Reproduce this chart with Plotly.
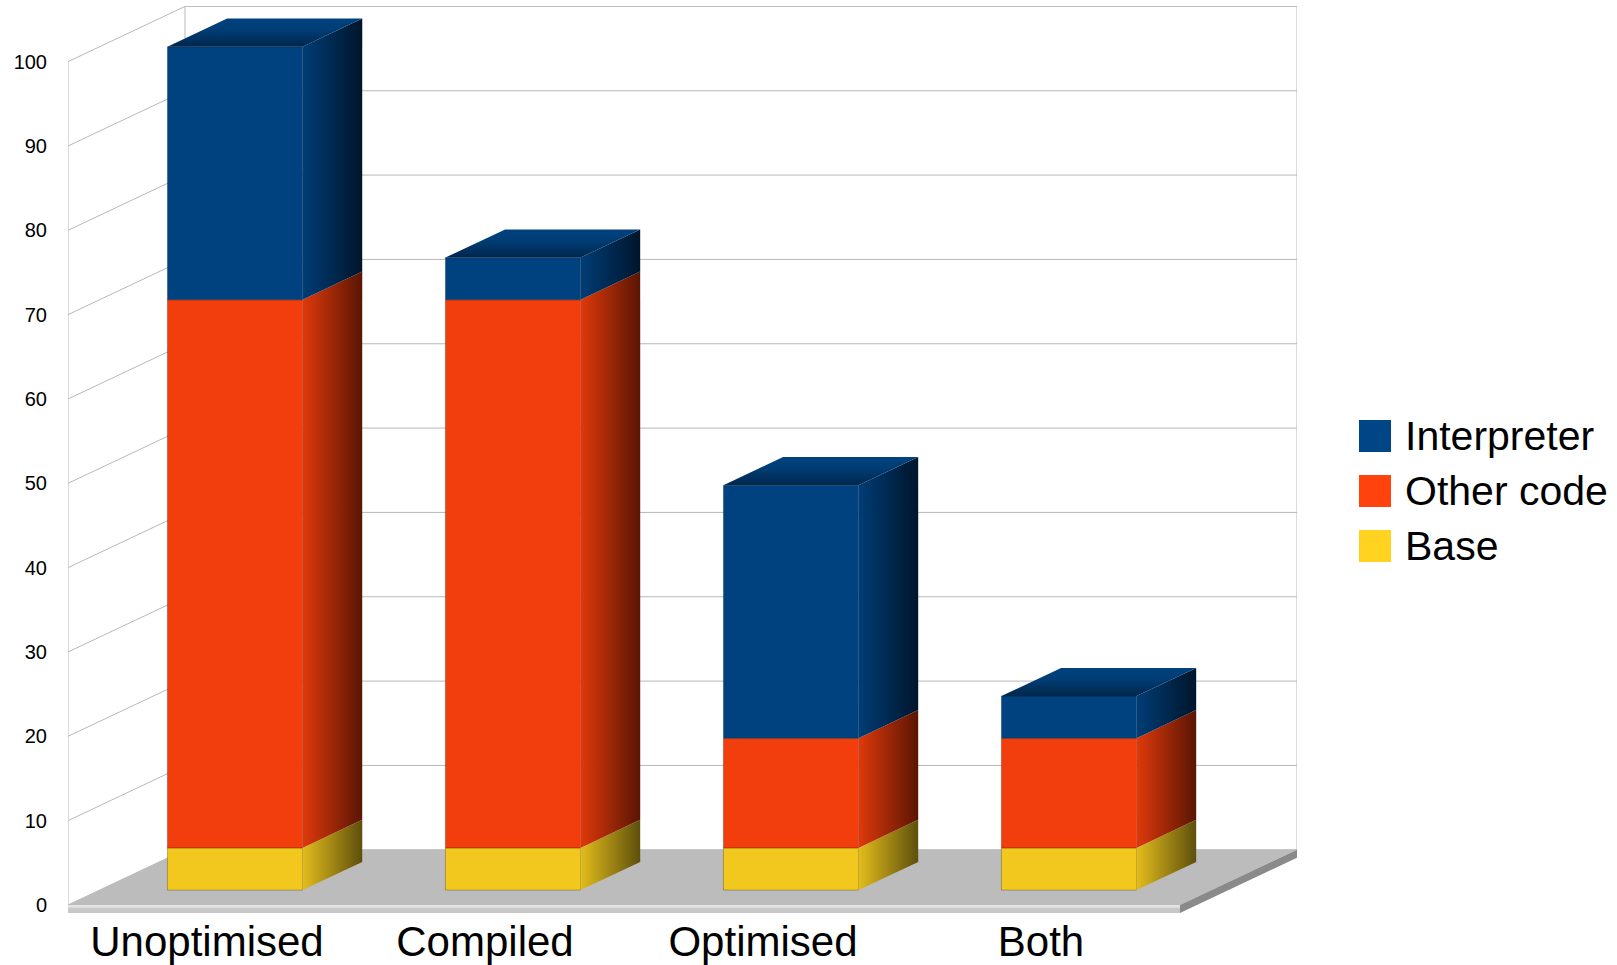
import plotly.graph_objects as go

# ---- data -------------------------------------------------------------
categories = ["Unoptimised", "Compiled", "Optimised", "Both"]
base = [5, 5, 5, 5]
other_code = [65, 65, 13, 13]
interpreter = [30, 5, 30, 5]
y_ticks = [0, 10, 20, 30, 40, 50, 60, 70, 80, 90, 100]

# ---- styling ----------------------------------------------------------
series = [
    # name, values, legend colour, front colour, side start, side end
    ("Base", base, "#ffd320", "#f2c81e", "#e3bd1c", "#5e4f0c"),
    ("Other code", other_code, "#ff420e", "#f23d0c", "#df390b", "#5a1503"),
    ("Interpreter", interpreter, "#004586", "#00427f", "#003d76", "#00152b"),
]

# oblique projection: offset (in axis units) of one full depth step
DX = 0.421
DY = 6.55
D_FRONT, D_BACK = 0.27, 0.78     # depth of the bar front / back faces
BAR_W = 0.486
BAR_C = 0.487
FLOOR_T = 0.95                   # thickness of the floor slab
N = len(categories)

W, H = 1617, 965
ML, MR, MT, MB = 68, 320, 6, 52
X_RANGE = [0, N + DX]
Y_RANGE = [-FLOOR_T, 100 + DY + 0.05]

FONT = "Liberation Sans, Arial, sans-serif"

fig = go.Figure()

# front faces of the stacked bars
cum = [0.0] * N
stack_bottoms = []
for name, vals, leg_c, front_c, s0, s1 in series:
    stack_bottoms.append(list(cum))
    fig.add_trace(go.Bar(
        x=[i + BAR_C + D_FRONT * DX for i in range(N)],
        y=vals,
        base=[c + D_FRONT * DY for c in cum],
        width=BAR_W,
        marker=dict(color=front_c, line=dict(color="rgba(0,0,0,0.25)", width=1)),
        name=name,
        showlegend=False,
        hoverinfo="skip",
    ))
    cum = [c + v for c, v in zip(cum, vals)]

# side faces, one trace each so every face carries its own gradient
ddx = (D_BACK - D_FRONT) * DX
ddy = (D_BACK - D_FRONT) * DY
for (name, vals, leg_c, front_c, s0, s1), bottoms in zip(series, stack_bottoms):
    for i in range(N):
        xr = i + BAR_C + D_FRONT * DX + BAR_W / 2
        y0 = bottoms[i] + D_FRONT * DY
        y1 = y0 + vals[i]
        fig.add_trace(go.Scatter(
            x=[xr, xr + ddx, xr + ddx, xr, xr],
            y=[y0, y0 + ddy, y1 + ddy, y1, y0],
            mode="lines", line=dict(width=0),
            fill="toself",
            fillgradient=dict(type="horizontal",
                              colorscale=[[0, s0], [1, s1]]),
            showlegend=False, hoverinfo="skip",
        ))

# top faces of the uppermost segment
for i in range(N):
    xl = i + BAR_C + D_FRONT * DX - BAR_W / 2
    xr = xl + BAR_W
    yt = cum[i] + D_FRONT * DY
    fig.add_trace(go.Scatter(
        x=[xl, xr, xr + ddx, xl + ddx, xl],
        y=[yt, yt, yt + ddy, yt + ddy, yt],
        mode="lines", line=dict(width=0),
        fill="toself",
        fillgradient=dict(type="vertical",
                          colorscale=[[0, "#00264c"], [0.6, "#003d75"], [1, "#00427f"]]),
        showlegend=False, hoverinfo="skip",
    ))

# ---- walls, grid and floor -------------------------------------------
shapes = []
grid_c = "#b8b8b8"
for v in y_ticks:
    shapes.append(dict(type="path", layer="below",
                       path=f"M0,{v} L{DX},{v + DY} L{N + DX},{v + DY}",
                       line=dict(color=grid_c, width=1)))
for xv, ya, yb in [(0, 0, 100), (DX, DY, 100 + DY), (N + DX, DY, 100 + DY)]:
    shapes.append(dict(type="line", layer="below", x0=xv, x1=xv, y0=ya, y1=yb,
                       line=dict(color=grid_c, width=1)))

# floor top
shapes.append(dict(type="path", layer="below",
                   path=f"M0,0 L{N},0 L{N + DX},{DY} L{DX},{DY} Z",
                   fillcolor="#bcbcbc", line=dict(width=0)))
# floor front edge
shapes.append(dict(type="path", layer="below",
                   path=f"M0,0 L{N},0 L{N},{-FLOOR_T} L0,{-FLOOR_T} Z",
                   fillcolor="#c8c8c8", line=dict(width=0)))
shapes.append(dict(type="path", layer="below",
                   path=f"M0,0 L{N},0 L{N},{-FLOOR_T * 0.35} L0,{-FLOOR_T * 0.35} Z",
                   fillcolor="#e2e2e2", line=dict(width=0)))
# floor right edge
shapes.append(dict(type="path", layer="below",
                   path=f"M{N},0 L{N + DX},{DY} L{N + DX},{DY - FLOOR_T} L{N},{-FLOOR_T} Z",
                   fillcolor="#8a8a8a", line=dict(width=0)))

# ---- legend (drawn with enlarged swatches) ---------------------------
pw = W - ML - MR
ph = H - MT - MB
annotations = []
rows_py = [436, 491, 546]
for (name, vals, leg_c, *_), py in zip(reversed(series), rows_py):
    yc = (H - MB - py) / ph
    half = 16 / ph
    shapes.append(dict(type="rect", xref="paper", yref="paper",
                       x0=(1359 - ML) / pw, x1=(1391 - ML) / pw,
                       y0=yc - half, y1=yc + half,
                       fillcolor=leg_c, line=dict(width=0)))
    annotations.append(dict(xref="paper", yref="paper",
                            x=(1403 - ML) / pw, y=yc, xanchor="left", yanchor="middle",
                            text=name, showarrow=False,
                            font=dict(family=FONT, size=41, color="#000000")))

fig.update_layout(
    width=W, height=H,
    margin=dict(l=ML, r=MR, t=MT, b=MB, autoexpand=False),
    paper_bgcolor="white", plot_bgcolor="white",
    barmode="overlay",
    showlegend=False,
    shapes=shapes,
    annotations=annotations,
    font=dict(family=FONT, color="#000000"),
    xaxis=dict(range=X_RANGE, showgrid=False, zeroline=False, showline=False,
               tickmode="array", tickvals=[i + 0.5 for i in range(N)],
               ticktext=categories, ticks="", tickfont=dict(size=42),
               ticklabelstandoff=0, automargin=False, fixedrange=True),
    yaxis=dict(range=Y_RANGE, showgrid=False, zeroline=False, showline=False,
               tickmode="array", tickvals=y_ticks, ticks="",
               tickfont=dict(size=20), ticklabelstandoff=20, automargin=False,
               fixedrange=True),
)

fig.write_html("out.html", config={"displayModeBar": False})
